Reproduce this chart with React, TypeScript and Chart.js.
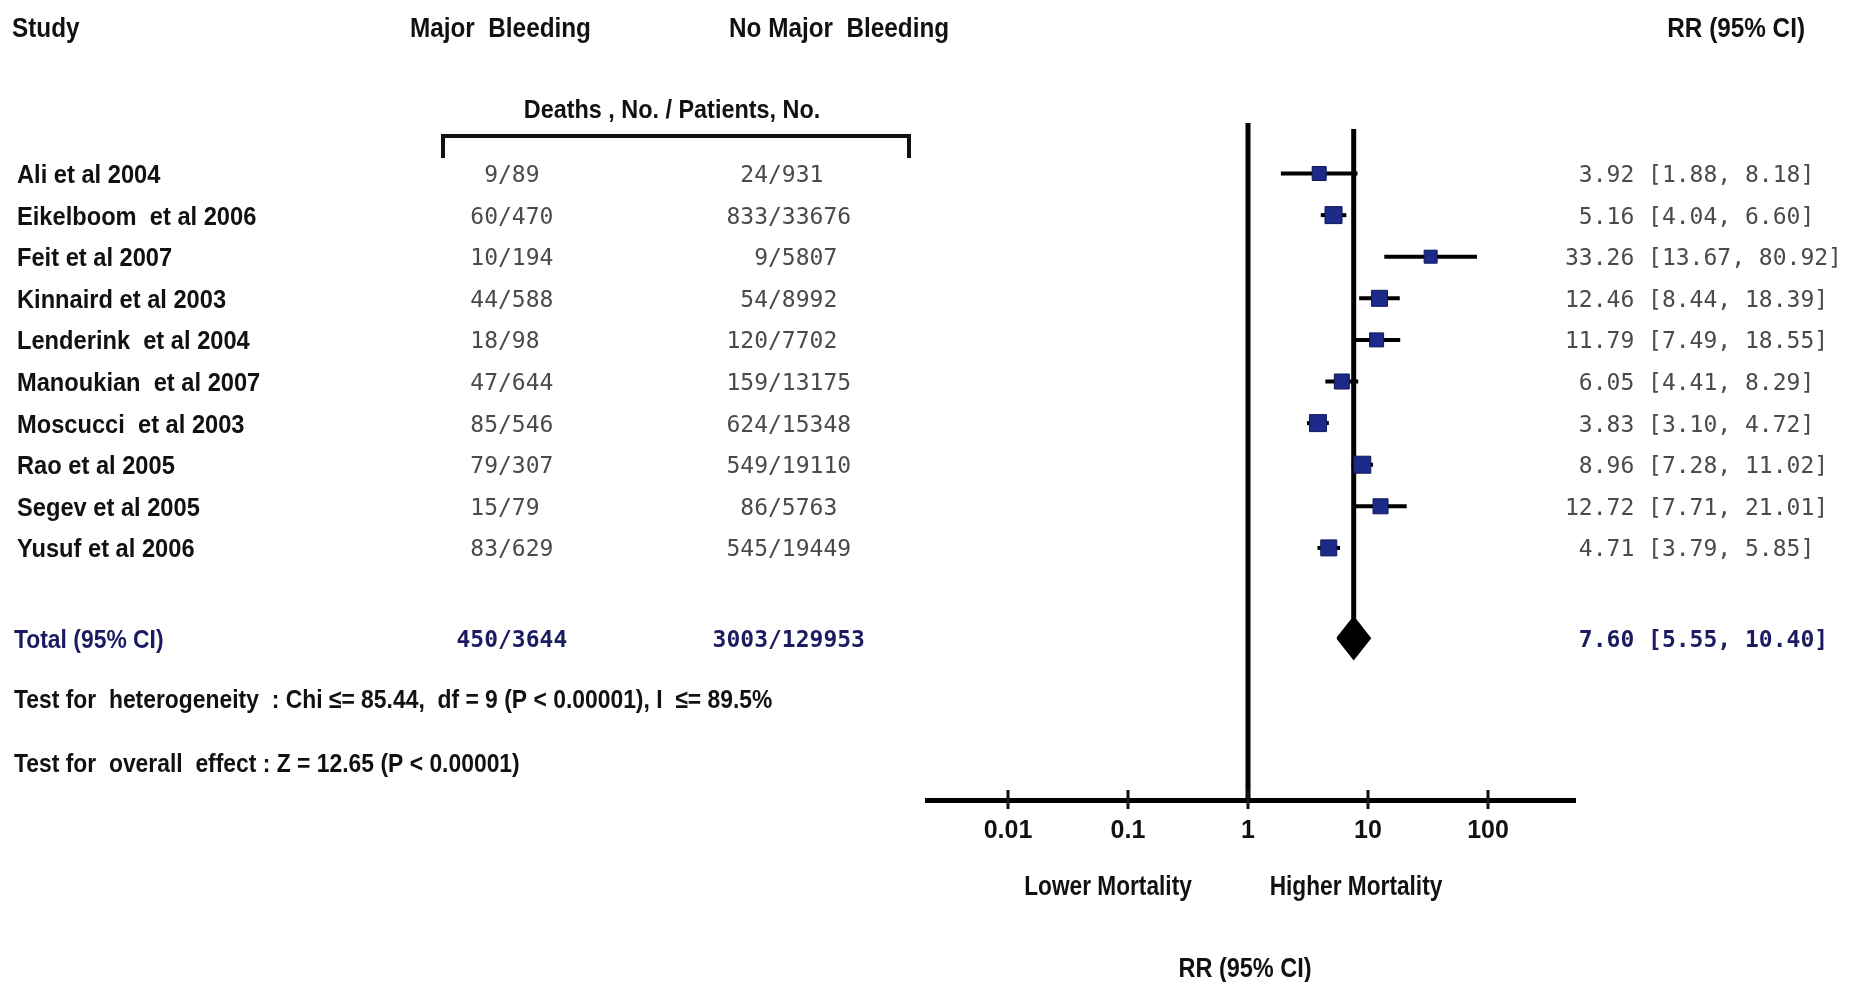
import React, { useEffect, useRef } from "react";
import { Chart, registerables } from "chart.js";

Chart.register(...registerables);

// ---------------- data ----------------
const studyNames = [
  "Ali et al 2004",
  "Eikelboom  et al 2006",
  "Feit et al 2007",
  "Kinnaird et al 2003",
  "Lenderink  et al 2004",
  "Manoukian  et al 2007",
  "Moscucci  et al 2003",
  "Rao et al 2005",
  "Segev et al 2005",
  "Yusuf et al 2006",
];
const majorDeaths = [9, 60, 10, 44, 18, 47, 85, 79, 15, 83];
const majorPatients = [89, 470, 194, 588, 98, 644, 546, 307, 79, 629];
const noMajorDeaths = [24, 833, 9, 54, 120, 159, 624, 549, 86, 545];
const noMajorPatients = [931, 33676, 5807, 8992, 7702, 13175, 15348, 19110, 5763, 19449];
const riskRatio = [3.92, 5.16, 33.26, 12.46, 11.79, 6.05, 3.83, 8.96, 12.72, 4.71];
const ciLower = [1.88, 4.04, 13.67, 8.44, 7.49, 4.41, 3.1, 7.28, 7.71, 3.79];
const ciUpper = [8.18, 6.6, 80.92, 18.39, 18.55, 8.29, 4.72, 11.02, 21.01, 5.85];
const markerSide = [14, 17, 13, 16, 14, 15, 17, 17, 15, 16];

const totalMajor = [450, 3644];
const totalNoMajor = [3003, 129953];
const pooledRR = 7.6;
const pooledCI = [5.55, 10.4];

const xTickValues = [0.01, 0.1, 1, 10, 100];
const xTickLabels = ["0.01", "0.1", "1", "10", "100"];

const heterogeneityText =
  "Test for  heterogeneity  : Chi \u2264= 85.44,  df = 9 (P < 0.00001), I  \u2264= 89.5%";
const overallText = "Test for  overall  effect : Z = 12.65 (P < 0.00001)";

// ---------------- layout / style ----------------
const W = 1849;
const H = 982;
const X_MIN = Math.pow(10, -321 / 120);
const X_MAX = Math.pow(10, 327 / 120);
const Y_MIN = -0.214;
const Y_MAX = 16.06;
const TOTAL_ROW = 12.17;
const POOLED_TOP = -0.07;
const DIAMOND_HALF = 0.5;

const SANS = '"Liberation Sans", Arial, sans-serif';
const MONO = '"DejaVu Sans Mono", monospace';
const INK = "#111111";
const GRAY = "#4a4a4a";
const NAVY = "#1b1b62";

function drawText(
  ctx: CanvasRenderingContext2D,
  s: string,
  x: number,
  y: number,
  font: string,
  color: string,
  align: CanvasTextAlign = "left",
  sx = 1
) {
  ctx.save();
  ctx.font = font;
  ctx.fillStyle = color;
  ctx.textAlign = align;
  ctx.textBaseline = "alphabetic";
  ctx.translate(x, y);
  ctx.scale(sx, 1);
  ctx.fillText(s, 0, 0);
  ctx.restore();
}

function drawFraction(
  ctx: CanvasRenderingContext2D,
  num: number,
  den: number,
  slashX: number,
  y: number,
  font: string,
  color: string
) {
  drawText(ctx, String(num), slashX, y, font, color, "right");
  drawText(ctx, "/" + String(den), slashX, y, font, color, "left");
}

function ciString(rr: number, lo: number, hi: number) {
  return `${rr.toFixed(2).padStart(5)} [${lo.toFixed(2)}, ${hi.toFixed(2)}]`;
}

const textPlugin = {
  id: "forestText",
  afterDraw(chart: any) {
    const { ctx } = chart;
    const xs = chart.scales.x;
    const ys = chart.scales.y;
    const rowY = (v: number) => ys.getPixelForValue(v);

    const H27 = `bold 27px ${SANS}`;
    const NAME = `bold 26px ${SANS}`;
    const MONO23 = `23px ${MONO}`;
    const MONO23B = `bold 23px ${MONO}`;

    // headers
    drawText(ctx, "Study", 12, 37, H27, INK, "left", 0.9);
    drawText(ctx, "Major  Bleeding", 410, 37, H27, INK, "left", 0.9);
    drawText(ctx, "No Major  Bleeding", 729, 37, H27, INK, "left", 0.9);
    drawText(ctx, "RR (95% CI)", 1805, 37, H27, INK, "right", 0.9);
    drawText(ctx, "Deaths , No. / Patients, No.", 672, 118, `bold 26px ${SANS}`, INK, "center", 0.9);

    // bracket
    ctx.save();
    ctx.strokeStyle = INK;
    ctx.lineWidth = 4;
    ctx.beginPath();
    ctx.moveTo(443, 158);
    ctx.lineTo(443, 136);
    ctx.lineTo(909, 136);
    ctx.lineTo(909, 158);
    ctx.stroke();
    ctx.restore();

    // rows
    studyNames.forEach((name, i) => {
      const cy = rowY(i + 1);
      drawText(ctx, name, 17, cy + 9.5, NAME, INK, "left", 0.91);
      drawFraction(ctx, majorDeaths[i], majorPatients[i], 498, cy + 8.5, MONO23, GRAY);
      drawFraction(ctx, noMajorDeaths[i], noMajorPatients[i], 768, cy + 8.5, MONO23, GRAY);
      drawText(ctx, ciString(riskRatio[i], ciLower[i], ciUpper[i]), 1565, cy + 8.5, MONO23, GRAY);
    });

    // total row
    const ty = rowY(TOTAL_ROW);
    drawText(ctx, "Total (95% CI)", 14, ty + 9.5, NAME, NAVY, "left", 0.88);
    drawFraction(ctx, totalMajor[0], totalMajor[1], 498, ty + 8.5, MONO23B, NAVY);
    drawFraction(ctx, totalNoMajor[0], totalNoMajor[1], 768, ty + 8.5, MONO23B, NAVY);
    drawText(ctx, ciString(pooledRR, pooledCI[0], pooledCI[1]), 1565, ty + 8.5, MONO23B, NAVY);

    // test statistics
    drawText(ctx, heterogeneityText, 14, 708, NAME, INK, "left", 0.88);
    drawText(ctx, overallText, 14, 772, NAME, INK, "left", 0.88);

    // tick marks crossing the axis line
    ctx.save();
    ctx.strokeStyle = INK;
    ctx.lineWidth = 3;
    xTickValues.forEach((v) => {
      const px = xs.getPixelForValue(v);
      ctx.beginPath();
      ctx.moveTo(px, xs.top - 10);
      ctx.lineTo(px, xs.top + 9);
      ctx.stroke();
    });
    ctx.restore();

    // axis annotations
    drawText(ctx, "Lower Mortality", 1108, 895, `bold 27px ${SANS}`, INK, "center", 0.84);
    drawText(ctx, "Higher Mortality", 1356, 895, `bold 27px ${SANS}`, INK, "center", 0.84);
    drawText(ctx, "RR (95% CI)", 1245, 977, `bold 27px ${SANS}`, INK, "center", 0.87);
  },
};

export default function App() {
  const canvasRef = useRef<HTMLCanvasElement | null>(null);

  useEffect(() => {
    document.body.style.margin = "0";
    document.body.style.background = "#ffffff";
    const canvas = canvasRef.current;
    if (!canvas) return;

    const squares = riskRatio.map((v, i) => ({ x: v, y: i + 1 }));
    const whiskers = riskRatio.map((_, i) => ({
      type: "line" as const,
      data: [
        { x: ciLower[i], y: i + 1 },
        { x: ciUpper[i], y: i + 1 },
      ],
      borderColor: "#000000",
      borderWidth: 4,
      pointRadius: 0,
      fill: false,
    }));

    const chart = new Chart(canvas, {
      type: "scatter",
      data: {
        datasets: [
          {
            type: "scatter",
            data: squares,
            pointStyle: "rect",
            pointRadius: markerSide.map((s) => s / Math.SQRT2),
            backgroundColor: "#1c2b8a",
            borderColor: "#0f1858",
            borderWidth: 1,
          } as any,
          {
            type: "line",
            data: [
              { x: pooledCI[0], y: TOTAL_ROW },
              { x: pooledRR, y: TOTAL_ROW - DIAMOND_HALF },
              { x: pooledCI[1], y: TOTAL_ROW },
              { x: pooledRR, y: TOTAL_ROW + DIAMOND_HALF },
              { x: pooledCI[0], y: TOTAL_ROW },
            ],
            borderColor: "#000000",
            backgroundColor: "#000000",
            borderWidth: 2,
            borderJoinStyle: "miter",
            pointRadius: 0,
            fill: "shape",
          } as any,
          ...(whiskers as any[]),
          {
            type: "line",
            data: [
              { x: pooledRR, y: POOLED_TOP },
              { x: pooledRR, y: TOTAL_ROW },
            ],
            borderColor: "#000000",
            borderWidth: 5,
            pointRadius: 0,
            fill: false,
          } as any,
          {
            type: "line",
            data: [
              { x: 1, y: Y_MIN },
              { x: 1, y: Y_MAX },
            ],
            borderColor: "#000000",
            borderWidth: 5,
            pointRadius: 0,
            fill: false,
          } as any,
        ],
      },
      options: {
        responsive: false,
        animation: false,
        devicePixelRatio: 1,
        layout: { padding: { left: 927, right: W - 1575, top: 123, bottom: 0 } },
        plugins: {
          legend: { display: false },
          tooltip: { enabled: false },
        },
        scales: {
          x: {
            type: "logarithmic",
            min: X_MIN,
            max: X_MAX,
            afterBuildTicks: (scale: any) => {
              scale.ticks = xTickValues.map((v) => ({ value: v }));
            },
            afterFit: (scale: any) => {
              scale.height = H - 800;
            },
            grid: { display: false },
            border: { display: true, color: "#000000", width: 5 },
            ticks: {
              autoSkip: false,
              maxRotation: 0,
              padding: 8,
              color: INK,
              font: { family: SANS, size: 25, weight: "bold" },
              callback: (value: any) => {
                const idx = xTickValues.indexOf(Number(value));
                return idx >= 0 ? xTickLabels[idx] : "";
              },
            },
          } as any,
          y: {
            type: "linear",
            display: false,
            reverse: true,
            min: Y_MIN,
            max: Y_MAX,
          },
        },
      },
      plugins: [textPlugin],
    });

    return () => chart.destroy();
  }, []);

  return (
    <div style={{ position: "absolute", left: 0, top: 0, width: W, height: H, background: "#fff" }}>
      <canvas ref={canvasRef} width={W} height={H} style={{ display: "block", width: W, height: H }} />
    </div>
  );
}
